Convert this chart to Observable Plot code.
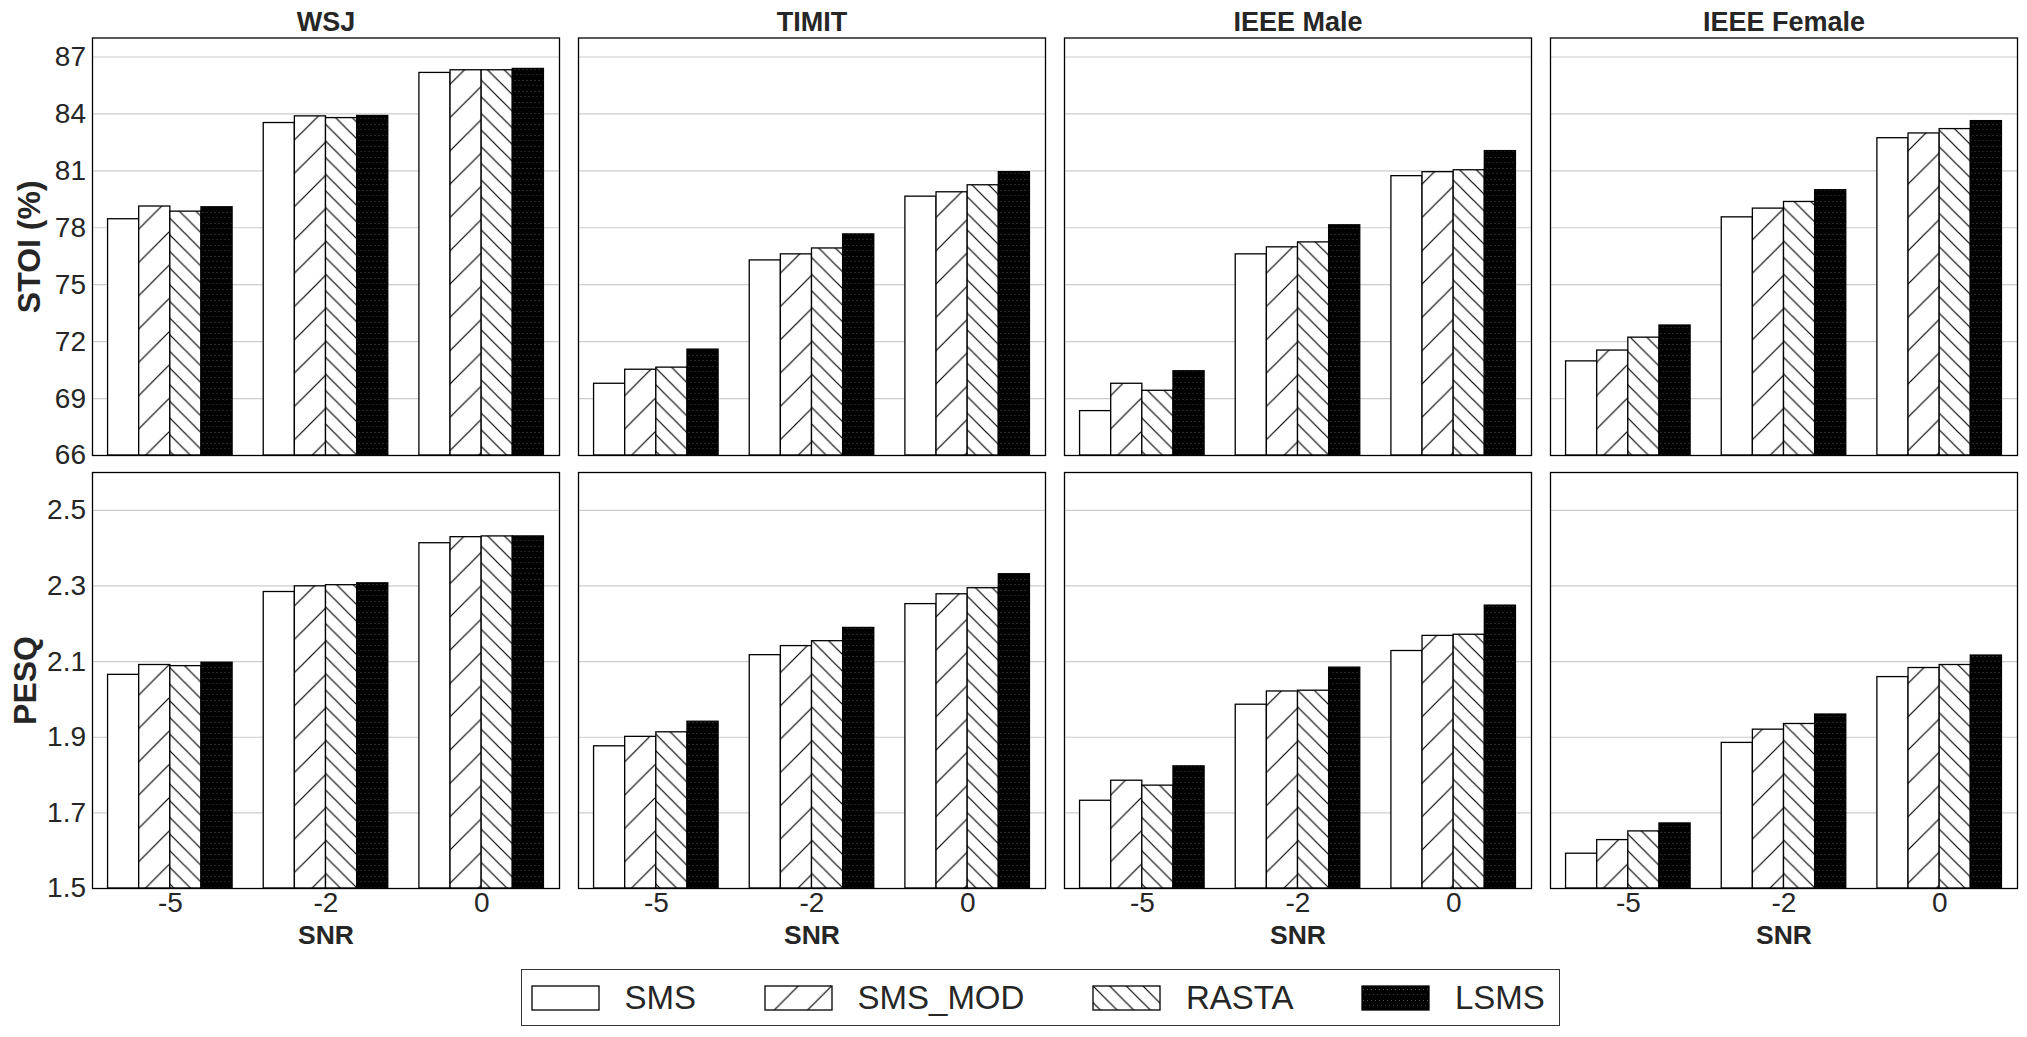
<!DOCTYPE html>
<html>
<head>
<meta charset="utf-8">
<script src="https://cdn.jsdelivr.net/npm/d3@7"></script>
<script src="https://cdn.jsdelivr.net/npm/@observablehq/plot@0.6"></script>
<style>
  html, body { margin: 0; padding: 0; background: #fff; }
  #root { position: relative; width: 2027px; height: 1037px; overflow: hidden;
          font-family: "Liberation Sans", Arial, sans-serif; color: #262626; }
  .row { position: absolute; left: 0; }
  #row1 { top: 0; }
  #row2 { top: 466px; }
  g[aria-label="y-axis label"] { font-size: 32px; font-weight: bold; }
  #legend { position: absolute; left: 521px; top: 969px; width: 1039px; height: 57px;
            box-sizing: border-box; border: 1.3px solid #333; display: flex; align-items: center;
            padding-left: 10px; }
  .lg-swatches { font-family: "Liberation Sans", Arial, sans-serif; font-size: 33px; color: #262626;
                 margin: 0 !important; min-height: 0 !important; }
  .lg-swatch { margin-right: 69px !important; }
  .lg-swatch:last-child { margin-right: 0 !important; }
  .lg-swatch > svg { margin-right: 25.5px !important; overflow: visible; }
  .lg-swatch > svg rect { stroke: #000; stroke-width: 1.3px; }
</style>
</head>
<body>
<svg width="0" height="0" style="position:absolute">
  <defs>
    <pattern id="hatch-fwd" patternUnits="userSpaceOnUse" width="33.3" height="33.3">
      <rect width="33.3" height="33.3" fill="#fff"/>
      <path d="M0,33.3 L33.3,0 M-8,8 L8,-8 M25.3,41.3 L41.3,25.3" stroke="#000" stroke-width="1.2"/>
    </pattern>
    <pattern id="hatch-back" patternUnits="userSpaceOnUse" width="16.65" height="16.65">
      <rect width="16.65" height="16.65" fill="#fff"/>
      <path d="M0,0 L16.65,16.65 M-4,12.65 L4,20.65 M12.65,-4 L20.65,4" stroke="#000" stroke-width="1.2"/>
    </pattern>
    <pattern id="hatch-dots" patternUnits="userSpaceOnUse" width="4" height="11">
      <rect width="4" height="11" fill="#000"/>
      <rect x="1" y="3" width="1" height="1" fill="#555"/>
      <rect x="3" y="8" width="1" height="1" fill="#444"/>
    </pattern>
  </defs>
</svg>
<div id="root">
  <div id="row1" class="row"></div>
  <div id="row2" class="row"></div>
  <div id="legend"></div>
</div>
<script>
// ---------- data ----------
const datasets = ["WSJ", "TIMIT", "IEEE Male", "IEEE Female"];
const snrLevels = ["-5", "-2", "0"];
const methods = ["SMS", "SMS_MOD", "RASTA", "LSMS"];

// STOI (%) : rows = SNR (-5, -2, 0), columns = methods
const stoiWSJ        = [[78.45, 79.12, 78.85, 79.08], [83.52, 83.87, 83.78, 83.89], [86.16, 86.30, 86.30, 86.37]];
const stoiTIMIT      = [[69.78, 70.52, 70.63, 71.58], [76.28, 76.60, 76.91, 77.65], [79.64, 79.87, 80.24, 80.93]];
const stoiIEEEMale   = [[68.34, 69.78, 69.41, 70.44], [76.60, 76.97, 77.23, 78.13], [80.72, 80.93, 81.03, 82.04]];
const stoiIEEEFemale = [[70.96, 71.53, 72.21, 72.85], [78.55, 79.01, 79.36, 79.98], [82.72, 82.97, 83.20, 83.62]];

// PESQ
const pesqWSJ        = [[2.065, 2.091, 2.088, 2.097], [2.284, 2.299, 2.302, 2.307], [2.413, 2.429, 2.431, 2.431]];
const pesqTIMIT      = [[1.876, 1.901, 1.913, 1.941], [2.117, 2.141, 2.154, 2.189], [2.252, 2.278, 2.294, 2.331]];
const pesqIEEEMale   = [[1.732, 1.785, 1.772, 1.823], [1.986, 2.021, 2.023, 2.084], [2.128, 2.168, 2.171, 2.248]];
const pesqIEEEFemale = [[1.592, 1.628, 1.651, 1.672], [1.885, 1.920, 1.935, 1.960], [2.059, 2.083, 2.091, 2.116]];

const stoiDomain = [66, 88];
const stoiTicks = [66, 69, 72, 75, 78, 81, 84, 87];
const pesqDomain = [1.5, 2.6];
const pesqTicks = [1.5, 1.7, 1.9, 2.1, 2.3, 2.5];

const methodFills = ["#ffffff", "url(#hatch-fwd)", "url(#hatch-back)", "url(#hatch-dots)"];

// ---------- build tables ----------
function buildTable(perDataset) {
  const out = [];
  datasets.forEach((ds, di) => {
    perDataset[di].forEach((row, si) => {
      row.forEach((v, mi) => {
        out.push({dataset: ds, snr: snrLevels[si], si, method: methods[mi], mi, value: v});
      });
    });
  });
  return out;
}
const stoiTable = buildTable([stoiWSJ, stoiTIMIT, stoiIEEEMale, stoiIEEEFemale]);
const pesqTable = buildTable([pesqWSJ, pesqTIMIT, pesqIEEEMale, pesqIEEEFemale]);

const groupPad = 0.1;                       // outer space of each SNR group (in group units)
const barW = (1 - 2 * groupPad) / methods.length;
const font = "Liberation Sans, Arial, sans-serif";

function makeRow({table, domain, ticks, label, labelOffset, height, marginTop, marginBottom, top}) {
  const marks = [
    Plot.gridY({ticks, stroke: "#cccccc", strokeOpacity: 1, strokeWidth: 1.2}),
    Plot.rect(table, {
      fx: "dataset",
      x1: d => d.si + groupPad + barW * d.mi,
      x2: d => d.si + groupPad + barW * (d.mi + 1),
      y1: domain[0],
      y2: "value",
      fill: "method",
      stroke: "#000",
      strokeWidth: 1.3
    }),
    Plot.frame({stroke: "#000", strokeWidth: 1.3}),
    Plot.axisY({ticks, tickSize: 0, tickPadding: 6.5, fontSize: 28, color: "#262626",
                label, labelAnchor: "center", labelOffset, labelArrow: false})
  ];
  if (top) {
    marks.push(Plot.axisFx({anchor: "top", tickSize: 0, tickPadding: 7.5, fontSize: 27,
                            fontWeight: "bold", color: "#262626", label: null}));
  } else {
    marks.push(Plot.axisX({ticks: snrLevels.map((_, i) => i + 0.5), tickFormat: (t, i) => snrLevels[i],
                           tickSize: 0, tickPadding: 4, fontSize: 28, color: "#262626", label: null}));
    marks.push(Plot.text(["SNR"], {text: d => d, frameAnchor: "bottom", dy: 55, lineAnchor: "bottom",
                                   fontSize: 26.5, fontWeight: "bold", fill: "#262626"}));
  }
  return Plot.plot({
    width: 2027,
    height,
    marginLeft: 90.5,
    marginRight: 9,
    marginTop,
    marginBottom,
    style: {background: "transparent", overflow: "visible", fontFamily: font},
    fx: {domain: datasets, paddingInner: 0.04, paddingOuter: 0, label: null, axis: top ? undefined : null},
    x: {domain: [0, snrLevels.length], axis: top ? null : undefined},
    y: {domain, label: null},
    color: {type: "ordinal", domain: methods, range: methodFills},
    marks
  });
}

document.getElementById("row1").append(makeRow({
  table: stoiTable, domain: stoiDomain, ticks: stoiTicks, label: "STOI (%)", labelOffset: 75,
  height: 466, marginTop: 37.5, marginBottom: 11, top: true
}));
document.getElementById("row2").append(makeRow({
  table: pesqTable, domain: pesqDomain, ticks: pesqTicks, label: "PESQ", labelOffset: 79,
  height: 499, marginTop: 6, marginBottom: 77, top: false
}));

document.getElementById("legend").append(Plot.legend({
  color: {type: "ordinal", domain: methods, range: methodFills},
  legend: "swatches",
  swatchWidth: 67,
  swatchHeight: 24,
  className: "lg"
}));
</script>
</body>
</html>
